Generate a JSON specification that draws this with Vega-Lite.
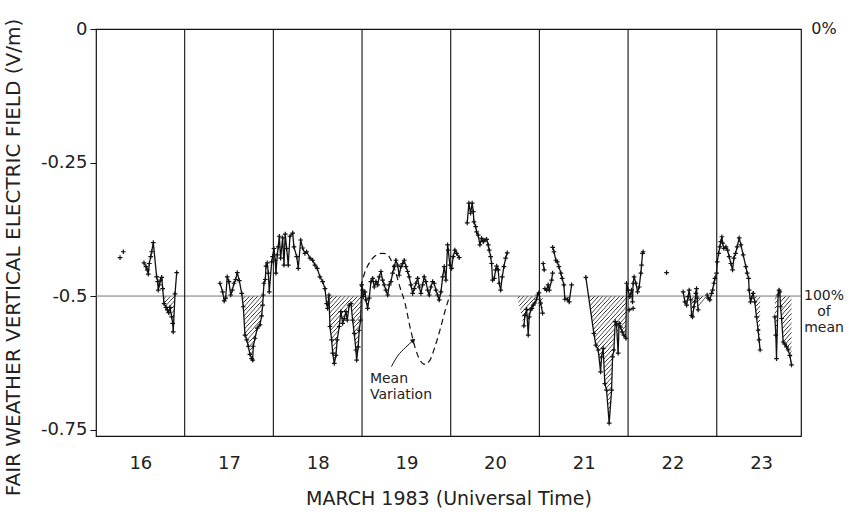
{
  "$schema": "https://vega.github.io/schema/vega-lite/v6.json",
  "width": 705,
  "height": 407,
  "autosize": {"type": "none"},
  "padding": {"left": 96, "top": 29, "right": 61, "bottom": 78},
  "background": "white",
  "config": {
    "font": "DejaVu Sans",
    "view": {"stroke": "#111", "strokeWidth": 1.2},
    "axis": {"grid": false, "domain": false, "labelColor": "#222", "titleColor": "#222", "titleFontWeight": "normal", "tickColor": "#111"}
  },
  "datasets": {
    "obs": [
      {"d": 15.771, "v": -0.428, "s": "p1"},
      {"d": 15.808, "v": -0.417, "s": "p2"},
      {"d": 16.041, "v": -0.438, "s": "a"}, {"d": 16.064, "v": -0.445, "s": "a"}, {"d": 16.078, "v": -0.451, "s": "a"}, {"d": 16.090, "v": -0.459, "s": "a"}, {"d": 16.101, "v": -0.439, "s": "a"}, {"d": 16.117, "v": -0.426, "s": "a"}, {"d": 16.128, "v": -0.417, "s": "a"}, {"d": 16.146, "v": -0.400, "s": "a"}, {"d": 16.184, "v": -0.464, "s": "a"}, {"d": 16.196, "v": -0.473, "s": "a"}, {"d": 16.202, "v": -0.489, "s": "a"}, {"d": 16.214, "v": -0.479, "s": "a"}, {"d": 16.229, "v": -0.470, "s": "a"}, {"d": 16.241, "v": -0.465, "s": "a"}, {"d": 16.252, "v": -0.486, "s": "a"}, {"d": 16.267, "v": -0.514, "s": "a"}, {"d": 16.289, "v": -0.521, "s": "a"}, {"d": 16.304, "v": -0.526, "s": "a"}, {"d": 16.320, "v": -0.531, "s": "a"}, {"d": 16.334, "v": -0.521, "s": "a"}, {"d": 16.353, "v": -0.539, "s": "a"}, {"d": 16.365, "v": -0.551, "s": "a"}, {"d": 16.371, "v": -0.567, "s": "a"}, {"d": 16.391, "v": -0.496, "s": "a"}, {"d": 16.410, "v": -0.456, "s": "a"},
      {"d": 16.898, "v": -0.476, "s": "b"}, {"d": 16.928, "v": -0.492, "s": "b"}, {"d": 16.946, "v": -0.509, "s": "b"}, {"d": 16.962, "v": -0.504, "s": "b"}, {"d": 16.980, "v": -0.464, "s": "b"}, {"d": 16.999, "v": -0.473, "s": "b"}, {"d": 17.019, "v": -0.498, "s": "b"}, {"d": 17.037, "v": -0.489, "s": "b"}, {"d": 17.056, "v": -0.476, "s": "b"}, {"d": 17.075, "v": -0.469, "s": "b"}, {"d": 17.093, "v": -0.456, "s": "b"}, {"d": 17.116, "v": -0.471, "s": "b"}, {"d": 17.143, "v": -0.495, "s": "b"}, {"d": 17.161, "v": -0.520, "s": "b"}, {"d": 17.180, "v": -0.573, "s": "b"}, {"d": 17.199, "v": -0.582, "s": "b"}, {"d": 17.217, "v": -0.594, "s": "b"}, {"d": 17.236, "v": -0.609, "s": "b"}, {"d": 17.255, "v": -0.617, "s": "b"}, {"d": 17.267, "v": -0.620, "s": "b"}, {"d": 17.273, "v": -0.594, "s": "b"}, {"d": 17.293, "v": -0.579, "s": "b"}, {"d": 17.319, "v": -0.560, "s": "b"}, {"d": 17.349, "v": -0.554, "s": "b"}, {"d": 17.368, "v": -0.537, "s": "b"}, {"d": 17.379, "v": -0.517, "s": "b"}, {"d": 17.386, "v": -0.498, "s": "b"}, {"d": 17.394, "v": -0.476, "s": "b"}, {"d": 17.409, "v": -0.469, "s": "b"}, {"d": 17.417, "v": -0.444, "s": "b"}, {"d": 17.431, "v": -0.438, "s": "b"}, {"d": 17.443, "v": -0.457, "s": "b"}, {"d": 17.454, "v": -0.492, "s": "b"}, {"d": 17.481, "v": -0.436, "s": "b"}, {"d": 17.492, "v": -0.426, "s": "b"}, {"d": 17.507, "v": -0.411, "s": "b"}, {"d": 17.521, "v": -0.433, "s": "b"}, {"d": 17.529, "v": -0.457, "s": "b"}, {"d": 17.544, "v": -0.423, "s": "b"}, {"d": 17.555, "v": -0.408, "s": "b"}, {"d": 17.567, "v": -0.388, "s": "b"}, {"d": 17.582, "v": -0.429, "s": "b"}, {"d": 17.605, "v": -0.391, "s": "b"}, {"d": 17.620, "v": -0.442, "s": "b"}, {"d": 17.634, "v": -0.384, "s": "b"}, {"d": 17.650, "v": -0.411, "s": "b"}, {"d": 17.668, "v": -0.442, "s": "b"}, {"d": 17.687, "v": -0.388, "s": "b"}, {"d": 17.718, "v": -0.382, "s": "b"}, {"d": 17.732, "v": -0.408, "s": "b"}, {"d": 17.763, "v": -0.426, "s": "b"}, {"d": 17.781, "v": -0.448, "s": "b"}, {"d": 17.808, "v": -0.395, "s": "b"}, {"d": 17.830, "v": -0.410, "s": "b"}, {"d": 17.856, "v": -0.420, "s": "b"}, {"d": 17.875, "v": -0.417, "s": "b"}, {"d": 17.913, "v": -0.429, "s": "b"}, {"d": 17.943, "v": -0.433, "s": "b"}, {"d": 17.969, "v": -0.442, "s": "b"}, {"d": 17.995, "v": -0.448, "s": "b"}, {"d": 18.025, "v": -0.464, "s": "b"}, {"d": 18.056, "v": -0.473, "s": "b"}, {"d": 18.082, "v": -0.486, "s": "b"}, {"d": 18.101, "v": -0.514, "s": "b"}, {"d": 18.112, "v": -0.523, "s": "b"}, {"d": 18.127, "v": -0.498, "s": "b"}, {"d": 18.138, "v": -0.557, "s": "b"}, {"d": 18.157, "v": -0.582, "s": "b"}, {"d": 18.169, "v": -0.607, "s": "b"}, {"d": 18.187, "v": -0.626, "s": "b"}, {"d": 18.206, "v": -0.611, "s": "b"}, {"d": 18.220, "v": -0.582, "s": "b"}, {"d": 18.243, "v": -0.557, "s": "b"}, {"d": 18.262, "v": -0.529, "s": "b"}, {"d": 18.281, "v": -0.551, "s": "b"}, {"d": 18.299, "v": -0.542, "s": "b"}, {"d": 18.319, "v": -0.529, "s": "b"}, {"d": 18.333, "v": -0.545, "s": "b"}, {"d": 18.356, "v": -0.517, "s": "b"}, {"d": 18.375, "v": -0.514, "s": "b"}, {"d": 18.394, "v": -0.545, "s": "b"}, {"d": 18.412, "v": -0.570, "s": "b"}, {"d": 18.431, "v": -0.601, "s": "b"}, {"d": 18.439, "v": -0.620, "s": "b"}, {"d": 18.457, "v": -0.595, "s": "b"}, {"d": 18.468, "v": -0.564, "s": "b"}, {"d": 18.484, "v": -0.545, "s": "b"}, {"d": 18.496, "v": -0.479, "s": "b"}, {"d": 18.507, "v": -0.489, "s": "b"}, {"d": 18.514, "v": -0.501, "s": "b"}, {"d": 18.533, "v": -0.492, "s": "b"}, {"d": 18.544, "v": -0.507, "s": "b"}, {"d": 18.563, "v": -0.523, "s": "b"}, {"d": 18.581, "v": -0.504, "s": "b"}, {"d": 18.600, "v": -0.473, "s": "b"}, {"d": 18.620, "v": -0.467, "s": "b"}, {"d": 18.638, "v": -0.483, "s": "b"}, {"d": 18.657, "v": -0.473, "s": "b"}, {"d": 18.676, "v": -0.479, "s": "b"}, {"d": 18.694, "v": -0.464, "s": "b"}, {"d": 18.713, "v": -0.454, "s": "b"}, {"d": 18.732, "v": -0.470, "s": "b"}, {"d": 18.750, "v": -0.479, "s": "b"}, {"d": 18.769, "v": -0.489, "s": "b"}, {"d": 18.789, "v": -0.498, "s": "b"}, {"d": 18.807, "v": -0.479, "s": "b"}, {"d": 18.826, "v": -0.473, "s": "b"}, {"d": 18.845, "v": -0.457, "s": "b"}, {"d": 18.863, "v": -0.445, "s": "b"}, {"d": 18.882, "v": -0.433, "s": "b"}, {"d": 18.901, "v": -0.442, "s": "b"}, {"d": 18.919, "v": -0.461, "s": "b"}, {"d": 18.939, "v": -0.445, "s": "b"}, {"d": 18.958, "v": -0.439, "s": "b"}, {"d": 18.976, "v": -0.433, "s": "b"}, {"d": 18.995, "v": -0.445, "s": "b"}, {"d": 19.014, "v": -0.454, "s": "b"}, {"d": 19.032, "v": -0.464, "s": "b"}, {"d": 19.051, "v": -0.479, "s": "b"}, {"d": 19.071, "v": -0.495, "s": "b"}, {"d": 19.089, "v": -0.486, "s": "b"}, {"d": 19.108, "v": -0.476, "s": "b"}, {"d": 19.127, "v": -0.467, "s": "b"}, {"d": 19.145, "v": -0.483, "s": "b"}, {"d": 19.164, "v": -0.495, "s": "b"}, {"d": 19.183, "v": -0.479, "s": "b"}, {"d": 19.201, "v": -0.464, "s": "b"}, {"d": 19.220, "v": -0.473, "s": "b"}, {"d": 19.240, "v": -0.489, "s": "b"}, {"d": 19.258, "v": -0.498, "s": "b"}, {"d": 19.277, "v": -0.483, "s": "b"}, {"d": 19.296, "v": -0.473, "s": "b"}, {"d": 19.314, "v": -0.476, "s": "b"}, {"d": 19.333, "v": -0.489, "s": "b"}, {"d": 19.352, "v": -0.498, "s": "b"}, {"d": 19.370, "v": -0.507, "s": "b"}, {"d": 19.390, "v": -0.492, "s": "b"}, {"d": 19.409, "v": -0.464, "s": "b"}, {"d": 19.427, "v": -0.445, "s": "b"}, {"d": 19.446, "v": -0.470, "s": "b"}, {"d": 19.465, "v": -0.404, "s": "b"}, {"d": 19.472, "v": -0.414, "s": "b"}, {"d": 19.491, "v": -0.442, "s": "b"}, {"d": 19.510, "v": -0.448, "s": "b"}, {"d": 19.528, "v": -0.426, "s": "b"}, {"d": 19.547, "v": -0.414, "s": "b"}, {"d": 19.567, "v": -0.420, "s": "b"}, {"d": 19.596, "v": -0.428, "s": "b"},
      {"d": 19.686, "v": -0.363, "s": "c"}, {"d": 19.705, "v": -0.326, "s": "c"}, {"d": 19.724, "v": -0.345, "s": "c"}, {"d": 19.742, "v": -0.326, "s": "c"}, {"d": 19.754, "v": -0.342, "s": "c"}, {"d": 19.762, "v": -0.361, "s": "c"}, {"d": 19.781, "v": -0.370, "s": "c"}, {"d": 19.792, "v": -0.380, "s": "c"}, {"d": 19.810, "v": -0.386, "s": "c"}, {"d": 19.829, "v": -0.404, "s": "c"}, {"d": 19.848, "v": -0.392, "s": "c"}, {"d": 19.867, "v": -0.398, "s": "c"}, {"d": 19.886, "v": -0.395, "s": "c"}, {"d": 19.905, "v": -0.394, "s": "c"}, {"d": 19.923, "v": -0.404, "s": "c"}, {"d": 19.934, "v": -0.414, "s": "c"}, {"d": 19.950, "v": -0.426, "s": "c"}, {"d": 19.961, "v": -0.439, "s": "c"}, {"d": 19.972, "v": -0.470, "s": "c"}, {"d": 19.991, "v": -0.467, "s": "c"}, {"d": 20.006, "v": -0.451, "s": "c"}, {"d": 20.018, "v": -0.444, "s": "c"}, {"d": 20.036, "v": -0.451, "s": "c"}, {"d": 20.047, "v": -0.476, "s": "c"}, {"d": 20.063, "v": -0.489, "s": "c"}, {"d": 20.081, "v": -0.464, "s": "c"}, {"d": 20.100, "v": -0.445, "s": "c"}, {"d": 20.119, "v": -0.429, "s": "c"}, {"d": 20.137, "v": -0.419, "s": "c"},
      {"d": 20.325, "v": -0.556, "s": "d"}, {"d": 20.337, "v": -0.536, "s": "d"}, {"d": 20.356, "v": -0.525, "s": "d"}, {"d": 20.374, "v": -0.573, "s": "d"}, {"d": 20.385, "v": -0.539, "s": "d"}, {"d": 20.401, "v": -0.526, "s": "d"}, {"d": 20.415, "v": -0.523, "s": "d"}, {"d": 20.430, "v": -0.517, "s": "d"}, {"d": 20.449, "v": -0.513, "s": "d"}, {"d": 20.469, "v": -0.506, "s": "d"}, {"d": 20.480, "v": -0.498, "s": "d"}, {"d": 20.494, "v": -0.494, "s": "d"}, {"d": 20.514, "v": -0.513, "s": "d"}, {"d": 20.536, "v": -0.532, "s": "d"},
      {"d": 20.543, "v": -0.439, "s": "e1"}, {"d": 20.554, "v": -0.451, "s": "e1"},
      {"d": 20.562, "v": -0.486, "s": "e2"}, {"d": 20.581, "v": -0.489, "s": "e2"}, {"d": 20.599, "v": -0.479, "s": "e2"}, {"d": 20.611, "v": -0.489, "s": "e2"}, {"d": 20.638, "v": -0.470, "s": "e2"}, {"d": 20.649, "v": -0.457, "s": "e2"},
      {"d": 20.650, "v": -0.409, "s": "f"}, {"d": 20.664, "v": -0.417, "s": "f"}, {"d": 20.686, "v": -0.433, "s": "f"}, {"d": 20.701, "v": -0.436, "s": "f"}, {"d": 20.720, "v": -0.445, "s": "f"}, {"d": 20.742, "v": -0.457, "s": "f"}, {"d": 20.757, "v": -0.467, "s": "f"}, {"d": 20.776, "v": -0.479, "s": "f"}, {"d": 20.787, "v": -0.506, "s": "f"}, {"d": 20.813, "v": -0.506, "s": "f"}, {"d": 20.836, "v": -0.511, "s": "f"}, {"d": 20.863, "v": -0.479, "s": "f"},
      {"d": 21.024, "v": -0.465, "s": "g"}, {"d": 21.114, "v": -0.570, "s": "g"}, {"d": 21.137, "v": -0.592, "s": "g"}, {"d": 21.163, "v": -0.601, "s": "g"}, {"d": 21.190, "v": -0.642, "s": "g"}, {"d": 21.201, "v": -0.614, "s": "g"}, {"d": 21.219, "v": -0.598, "s": "g"}, {"d": 21.238, "v": -0.664, "s": "g"}, {"d": 21.257, "v": -0.676, "s": "g"}, {"d": 21.287, "v": -0.738, "s": "g"}, {"d": 21.314, "v": -0.676, "s": "g"}, {"d": 21.325, "v": -0.614, "s": "g"}, {"d": 21.340, "v": -0.601, "s": "g"}, {"d": 21.355, "v": -0.548, "s": "g"}, {"d": 21.370, "v": -0.554, "s": "g"}, {"d": 21.388, "v": -0.607, "s": "g"}, {"d": 21.399, "v": -0.551, "s": "g"}, {"d": 21.415, "v": -0.558, "s": "g"}, {"d": 21.433, "v": -0.567, "s": "g"}, {"d": 21.452, "v": -0.573, "s": "g"}, {"d": 21.475, "v": -0.579, "s": "g"}, {"d": 21.483, "v": -0.476, "s": "g"}, {"d": 21.501, "v": -0.489, "s": "g"}, {"d": 21.520, "v": -0.501, "s": "g"}, {"d": 21.539, "v": -0.489, "s": "g"}, {"d": 21.550, "v": -0.511, "s": "g"}, {"d": 21.557, "v": -0.476, "s": "g"}, {"d": 21.568, "v": -0.464, "s": "g"}, {"d": 21.588, "v": -0.476, "s": "g"}, {"d": 21.607, "v": -0.492, "s": "g"}, {"d": 21.625, "v": -0.483, "s": "g"}, {"d": 21.644, "v": -0.457, "s": "g"}, {"d": 21.652, "v": -0.442, "s": "g"}, {"d": 21.663, "v": -0.420, "s": "g"}, {"d": 21.670, "v": -0.417, "s": "g"},
      {"d": 21.512, "v": -0.526, "s": "h"}, {"d": 21.557, "v": -0.523, "s": "h"},
      {"d": 21.934, "v": -0.456, "s": "p3"},
      {"d": 22.121, "v": -0.492, "s": "i"}, {"d": 22.141, "v": -0.511, "s": "i"}, {"d": 22.160, "v": -0.517, "s": "i"}, {"d": 22.178, "v": -0.501, "s": "i"}, {"d": 22.189, "v": -0.489, "s": "i"}, {"d": 22.205, "v": -0.507, "s": "i"}, {"d": 22.216, "v": -0.536, "s": "i"}, {"d": 22.227, "v": -0.539, "s": "i"}, {"d": 22.242, "v": -0.520, "s": "i"}, {"d": 22.253, "v": -0.511, "s": "i"}, {"d": 22.264, "v": -0.495, "s": "i"}, {"d": 22.272, "v": -0.486, "s": "i"}, {"d": 22.279, "v": -0.504, "s": "i"}, {"d": 22.290, "v": -0.526, "s": "i"},
      {"d": 22.392, "v": -0.498, "s": "j"}, {"d": 22.403, "v": -0.504, "s": "j"}, {"d": 22.422, "v": -0.507, "s": "j"}, {"d": 22.442, "v": -0.495, "s": "j"}, {"d": 22.453, "v": -0.489, "s": "j"}, {"d": 22.468, "v": -0.476, "s": "j"}, {"d": 22.479, "v": -0.467, "s": "j"}, {"d": 22.498, "v": -0.457, "s": "j"}, {"d": 22.505, "v": -0.436, "s": "j"}, {"d": 22.521, "v": -0.420, "s": "j"}, {"d": 22.535, "v": -0.408, "s": "j"}, {"d": 22.546, "v": -0.398, "s": "j"}, {"d": 22.558, "v": -0.389, "s": "j"}, {"d": 22.566, "v": -0.401, "s": "j"}, {"d": 22.580, "v": -0.411, "s": "j"}, {"d": 22.603, "v": -0.408, "s": "j"}, {"d": 22.622, "v": -0.414, "s": "j"}, {"d": 22.640, "v": -0.426, "s": "j"}, {"d": 22.659, "v": -0.439, "s": "j"}, {"d": 22.678, "v": -0.451, "s": "j"}, {"d": 22.693, "v": -0.429, "s": "j"}, {"d": 22.712, "v": -0.420, "s": "j"}, {"d": 22.730, "v": -0.408, "s": "j"}, {"d": 22.753, "v": -0.391, "s": "j"}, {"d": 22.772, "v": -0.404, "s": "j"}, {"d": 22.798, "v": -0.423, "s": "j"}, {"d": 22.828, "v": -0.445, "s": "j"}, {"d": 22.843, "v": -0.457, "s": "j"}, {"d": 22.859, "v": -0.467, "s": "j"}, {"d": 22.865, "v": -0.489, "s": "j"}, {"d": 22.881, "v": -0.511, "s": "j"}, {"d": 22.892, "v": -0.504, "s": "j"}, {"d": 22.910, "v": -0.495, "s": "j"}, {"d": 22.929, "v": -0.511, "s": "j"}, {"d": 22.948, "v": -0.539, "s": "j"}, {"d": 22.966, "v": -0.564, "s": "j"}, {"d": 22.977, "v": -0.582, "s": "j"}, {"d": 22.989, "v": -0.601, "s": "j"},
      {"d": 23.155, "v": -0.539, "s": "k"}, {"d": 23.166, "v": -0.573, "s": "k"}, {"d": 23.174, "v": -0.617, "s": "k"}, {"d": 23.192, "v": -0.498, "s": "k"}, {"d": 23.203, "v": -0.489, "s": "k"}, {"d": 23.211, "v": -0.492, "s": "k"}, {"d": 23.219, "v": -0.520, "s": "k"}, {"d": 23.231, "v": -0.542, "s": "k"}, {"d": 23.249, "v": -0.586, "s": "k"}, {"d": 23.268, "v": -0.590, "s": "k"}, {"d": 23.287, "v": -0.595, "s": "k"}, {"d": 23.305, "v": -0.601, "s": "k"}, {"d": 23.324, "v": -0.611, "s": "k"}, {"d": 23.343, "v": -0.629, "s": "k"}
    ],
    "mean": [
      {"d": 18.484, "v": -0.483}, {"d": 18.533, "v": -0.455}, {"d": 18.589, "v": -0.436}, {"d": 18.646, "v": -0.425}, {"d": 18.721, "v": -0.420}, {"d": 18.781, "v": -0.421}, {"d": 18.815, "v": -0.429}, {"d": 18.871, "v": -0.451}, {"d": 18.927, "v": -0.483}, {"d": 18.984, "v": -0.513}, {"d": 19.040, "v": -0.557}, {"d": 19.096, "v": -0.595}, {"d": 19.153, "v": -0.620}, {"d": 19.209, "v": -0.628}, {"d": 19.266, "v": -0.620}, {"d": 19.322, "v": -0.595}, {"d": 19.378, "v": -0.564}, {"d": 19.434, "v": -0.529}, {"d": 19.491, "v": -0.498}
    ],
    "arrow": [
      {"d": 18.831, "v": -0.632}, {"d": 18.902, "v": -0.612}, {"d": 18.992, "v": -0.596}, {"d": 19.071, "v": -0.584}
    ],
    "days": [
      {"d": 16.5}, {"d": 17.5}, {"d": 18.5}, {"d": 19.5}, {"d": 20.5}, {"d": 21.5}, {"d": 22.5}
    ]
  },
  "layer": [
    {
      "data": {"name": "obs"},
      "encoding": {
        "x": {
          "field": "d", "type": "quantitative",
          "scale": {"domain": [15.5, 23.45], "nice": false, "zero": false},
          "axis": {
            "values": [16, 17, 18, 19, 20, 21, 22, 23], "format": "d", "ticks": false,
            "labelFontSize": 18, "labelPadding": 18,
            "title": "MARCH 1983  (Universal Time)", "titleFontSize": 19, "titlePadding": 17
          }
        },
        "y": {
          "field": "v", "type": "quantitative",
          "scale": {"domain": [-0.762, 0], "nice": false, "zero": false},
          "axis": {
            "values": [0, -0.25, -0.5, -0.75],
            "labelExpr": "datum.value == 0 ? '0' : datum.value == -0.25 ? '-0.25' : datum.value == -0.5 ? '-0.5' : '-0.75'",
            "tickSize": 6, "labelFontSize": 18, "labelPadding": 3,
            "title": "FAIR WEATHER VERTICAL ELECTRIC FIELD (V/m)", "titleFontSize": 20,
            "titleX": -83, "titleY": 228, "titleAngle": -90, "titleAlign": "center", "titleBaseline": "middle"
          }
        }
      },
      "layer": [
        {
          "transform": [{"filter": {"field": "s", "oneOf": ["a", "b", "c", "d", "e1", "e2", "f", "g", "i", "j"]}}],
          "mark": {"type": "area", "interpolate": "linear", "fill": {"gradient": "linear", "x1": 0, "y1": 0, "x2": 1.22, "y2": 0.398, "stops": [
            {"offset": 0.110, "color": "#fff"}, {"offset": 0.113, "color": "#fff"}, {"offset": 0.114, "color": "#222"},
            {"offset": 0.115, "color": "#fff"}, {"offset": 0.118, "color": "#fff"}, {"offset": 0.119, "color": "#222"},
            {"offset": 0.120, "color": "#fff"}, {"offset": 0.123, "color": "#fff"}, {"offset": 0.124, "color": "#222"},
            {"offset": 0.125, "color": "#fff"}, {"offset": 0.128, "color": "#fff"}, {"offset": 0.129, "color": "#222"},
            {"offset": 0.130, "color": "#fff"}, {"offset": 0.133, "color": "#fff"}, {"offset": 0.134, "color": "#222"},
            {"offset": 0.135, "color": "#fff"}, {"offset": 0.138, "color": "#fff"}, {"offset": 0.139, "color": "#222"},
            {"offset": 0.140, "color": "#fff"}, {"offset": 0.143, "color": "#fff"}, {"offset": 0.144, "color": "#222"},
            {"offset": 0.145, "color": "#fff"}, {"offset": 0.148, "color": "#fff"}, {"offset": 0.149, "color": "#222"},
            {"offset": 0.150, "color": "#fff"}, {"offset": 0.153, "color": "#fff"}, {"offset": 0.154, "color": "#222"},
            {"offset": 0.155, "color": "#fff"}, {"offset": 0.158, "color": "#fff"}, {"offset": 0.159, "color": "#222"},
            {"offset": 0.160, "color": "#fff"}, {"offset": 0.163, "color": "#fff"}, {"offset": 0.164, "color": "#222"},
            {"offset": 0.165, "color": "#fff"}, {"offset": 0.168, "color": "#fff"}, {"offset": 0.169, "color": "#222"},
            {"offset": 0.170, "color": "#fff"}, {"offset": 0.173, "color": "#fff"}, {"offset": 0.174, "color": "#222"},
            {"offset": 0.175, "color": "#fff"}, {"offset": 0.178, "color": "#fff"}, {"offset": 0.179, "color": "#222"},
            {"offset": 0.180, "color": "#fff"}, {"offset": 0.183, "color": "#fff"}, {"offset": 0.184, "color": "#222"},
            {"offset": 0.185, "color": "#fff"}, {"offset": 0.188, "color": "#fff"}, {"offset": 0.189, "color": "#222"},
            {"offset": 0.190, "color": "#fff"}, {"offset": 0.193, "color": "#fff"}, {"offset": 0.194, "color": "#222"},
            {"offset": 0.195, "color": "#fff"}, {"offset": 0.198, "color": "#fff"}, {"offset": 0.199, "color": "#222"},
            {"offset": 0.200, "color": "#fff"}, {"offset": 0.203, "color": "#fff"}, {"offset": 0.204, "color": "#222"},
            {"offset": 0.205, "color": "#fff"}, {"offset": 0.208, "color": "#fff"}, {"offset": 0.209, "color": "#222"},
            {"offset": 0.210, "color": "#fff"}, {"offset": 0.213, "color": "#fff"}, {"offset": 0.214, "color": "#222"},
            {"offset": 0.215, "color": "#fff"}, {"offset": 0.218, "color": "#fff"}, {"offset": 0.219, "color": "#222"},
            {"offset": 0.220, "color": "#fff"}, {"offset": 0.223, "color": "#fff"}, {"offset": 0.224, "color": "#222"},
            {"offset": 0.225, "color": "#fff"}, {"offset": 0.228, "color": "#fff"}, {"offset": 0.229, "color": "#222"},
            {"offset": 0.230, "color": "#fff"}, {"offset": 0.233, "color": "#fff"}, {"offset": 0.234, "color": "#222"},
            {"offset": 0.235, "color": "#fff"}, {"offset": 0.238, "color": "#fff"}, {"offset": 0.239, "color": "#222"},
            {"offset": 0.240, "color": "#fff"}, {"offset": 0.243, "color": "#fff"}, {"offset": 0.244, "color": "#222"},
            {"offset": 0.245, "color": "#fff"}, {"offset": 0.248, "color": "#fff"}, {"offset": 0.249, "color": "#222"},
            {"offset": 0.250, "color": "#fff"}, {"offset": 0.253, "color": "#fff"}, {"offset": 0.254, "color": "#222"},
            {"offset": 0.255, "color": "#fff"}, {"offset": 0.258, "color": "#fff"}, {"offset": 0.259, "color": "#222"},
            {"offset": 0.260, "color": "#fff"}, {"offset": 0.263, "color": "#fff"}, {"offset": 0.264, "color": "#222"},
            {"offset": 0.265, "color": "#fff"}, {"offset": 0.268, "color": "#fff"}, {"offset": 0.269, "color": "#222"},
            {"offset": 0.270, "color": "#fff"}, {"offset": 0.273, "color": "#fff"}, {"offset": 0.274, "color": "#222"},
            {"offset": 0.275, "color": "#fff"}, {"offset": 0.278, "color": "#fff"}, {"offset": 0.279, "color": "#222"},
            {"offset": 0.280, "color": "#fff"}, {"offset": 0.283, "color": "#fff"}, {"offset": 0.284, "color": "#222"},
            {"offset": 0.285, "color": "#fff"}, {"offset": 0.288, "color": "#fff"}, {"offset": 0.289, "color": "#222"},
            {"offset": 0.290, "color": "#fff"}, {"offset": 0.293, "color": "#fff"}, {"offset": 0.294, "color": "#222"},
            {"offset": 0.295, "color": "#fff"}, {"offset": 0.298, "color": "#fff"}, {"offset": 0.299, "color": "#222"},
            {"offset": 0.300, "color": "#fff"}, {"offset": 0.303, "color": "#fff"}, {"offset": 0.304, "color": "#222"},
            {"offset": 0.305, "color": "#fff"}, {"offset": 0.308, "color": "#fff"}, {"offset": 0.309, "color": "#222"},
            {"offset": 0.310, "color": "#fff"}, {"offset": 0.313, "color": "#fff"}, {"offset": 0.314, "color": "#222"},
            {"offset": 0.315, "color": "#fff"}, {"offset": 0.318, "color": "#fff"}, {"offset": 0.319, "color": "#222"},
            {"offset": 0.320, "color": "#fff"}, {"offset": 0.323, "color": "#fff"}, {"offset": 0.324, "color": "#222"},
            {"offset": 0.325, "color": "#fff"}, {"offset": 0.328, "color": "#fff"}, {"offset": 0.329, "color": "#222"},
            {"offset": 0.330, "color": "#fff"}, {"offset": 0.333, "color": "#fff"}, {"offset": 0.334, "color": "#222"},
            {"offset": 0.335, "color": "#fff"}, {"offset": 0.338, "color": "#fff"}, {"offset": 0.339, "color": "#222"},
            {"offset": 0.340, "color": "#fff"}, {"offset": 0.343, "color": "#fff"}, {"offset": 0.344, "color": "#222"},
            {"offset": 0.345, "color": "#fff"}, {"offset": 0.348, "color": "#fff"}, {"offset": 0.349, "color": "#222"},
            {"offset": 0.350, "color": "#fff"}, {"offset": 0.353, "color": "#fff"}, {"offset": 0.354, "color": "#222"},
            {"offset": 0.355, "color": "#fff"}, {"offset": 0.358, "color": "#fff"}, {"offset": 0.359, "color": "#222"},
            {"offset": 0.360, "color": "#fff"}, {"offset": 0.363, "color": "#fff"}, {"offset": 0.364, "color": "#222"},
            {"offset": 0.365, "color": "#fff"}, {"offset": 0.368, "color": "#fff"}, {"offset": 0.369, "color": "#222"},
            {"offset": 0.370, "color": "#fff"}, {"offset": 0.373, "color": "#fff"}, {"offset": 0.374, "color": "#222"},
            {"offset": 0.375, "color": "#fff"}, {"offset": 0.378, "color": "#fff"}, {"offset": 0.379, "color": "#222"},
            {"offset": 0.380, "color": "#fff"}, {"offset": 0.383, "color": "#fff"}, {"offset": 0.384, "color": "#222"},
            {"offset": 0.385, "color": "#fff"}, {"offset": 0.388, "color": "#fff"}, {"offset": 0.389, "color": "#222"},
            {"offset": 0.390, "color": "#fff"}, {"offset": 0.393, "color": "#fff"}, {"offset": 0.394, "color": "#222"},
            {"offset": 0.395, "color": "#fff"}, {"offset": 0.398, "color": "#fff"}, {"offset": 0.399, "color": "#222"},
            {"offset": 0.400, "color": "#fff"}, {"offset": 0.403, "color": "#fff"}, {"offset": 0.404, "color": "#222"},
            {"offset": 0.405, "color": "#fff"}, {"offset": 0.408, "color": "#fff"}, {"offset": 0.409, "color": "#222"},
            {"offset": 0.410, "color": "#fff"}, {"offset": 0.413, "color": "#fff"}, {"offset": 0.414, "color": "#222"},
            {"offset": 0.415, "color": "#fff"}, {"offset": 0.418, "color": "#fff"}, {"offset": 0.419, "color": "#222"},
            {"offset": 0.420, "color": "#fff"}, {"offset": 0.423, "color": "#fff"}, {"offset": 0.424, "color": "#222"},
            {"offset": 0.425, "color": "#fff"}, {"offset": 0.428, "color": "#fff"}, {"offset": 0.429, "color": "#222"},
            {"offset": 0.430, "color": "#fff"}, {"offset": 0.433, "color": "#fff"}, {"offset": 0.434, "color": "#222"},
            {"offset": 0.435, "color": "#fff"}, {"offset": 0.438, "color": "#fff"}, {"offset": 0.439, "color": "#222"},
            {"offset": 0.440, "color": "#fff"}, {"offset": 0.443, "color": "#fff"}, {"offset": 0.444, "color": "#222"},
            {"offset": 0.445, "color": "#fff"}, {"offset": 0.448, "color": "#fff"}, {"offset": 0.449, "color": "#222"},
            {"offset": 0.450, "color": "#fff"}, {"offset": 0.453, "color": "#fff"}, {"offset": 0.454, "color": "#222"},
            {"offset": 0.455, "color": "#fff"}, {"offset": 0.458, "color": "#fff"}, {"offset": 0.459, "color": "#222"},
            {"offset": 0.460, "color": "#fff"}, {"offset": 0.463, "color": "#fff"}, {"offset": 0.464, "color": "#222"},
            {"offset": 0.465, "color": "#fff"}, {"offset": 0.468, "color": "#fff"}, {"offset": 0.469, "color": "#222"},
            {"offset": 0.470, "color": "#fff"}, {"offset": 0.473, "color": "#fff"}, {"offset": 0.474, "color": "#222"},
            {"offset": 0.475, "color": "#fff"}, {"offset": 0.478, "color": "#fff"}, {"offset": 0.479, "color": "#222"},
            {"offset": 0.480, "color": "#fff"}, {"offset": 0.483, "color": "#fff"}, {"offset": 0.484, "color": "#222"},
            {"offset": 0.485, "color": "#fff"}, {"offset": 0.488, "color": "#fff"}, {"offset": 0.489, "color": "#222"},
            {"offset": 0.490, "color": "#fff"}, {"offset": 0.493, "color": "#fff"}, {"offset": 0.494, "color": "#222"},
            {"offset": 0.495, "color": "#fff"}, {"offset": 0.498, "color": "#fff"}, {"offset": 0.499, "color": "#222"},
            {"offset": 0.500, "color": "#fff"}, {"offset": 0.503, "color": "#fff"}, {"offset": 0.504, "color": "#222"},
            {"offset": 0.505, "color": "#fff"}, {"offset": 0.508, "color": "#fff"}, {"offset": 0.509, "color": "#222"},
            {"offset": 0.510, "color": "#fff"}, {"offset": 0.513, "color": "#fff"}, {"offset": 0.514, "color": "#222"},
            {"offset": 0.515, "color": "#fff"}, {"offset": 0.518, "color": "#fff"}, {"offset": 0.519, "color": "#222"},
            {"offset": 0.520, "color": "#fff"}, {"offset": 0.523, "color": "#fff"}, {"offset": 0.524, "color": "#222"},
            {"offset": 0.525, "color": "#fff"}, {"offset": 0.528, "color": "#fff"}, {"offset": 0.529, "color": "#222"},
            {"offset": 0.530, "color": "#fff"}, {"offset": 0.533, "color": "#fff"}, {"offset": 0.534, "color": "#222"},
            {"offset": 0.535, "color": "#fff"}, {"offset": 0.538, "color": "#fff"}, {"offset": 0.539, "color": "#222"},
            {"offset": 0.540, "color": "#fff"}, {"offset": 0.543, "color": "#fff"}, {"offset": 0.544, "color": "#222"},
            {"offset": 0.545, "color": "#fff"}, {"offset": 0.548, "color": "#fff"}, {"offset": 0.549, "color": "#222"},
            {"offset": 0.550, "color": "#fff"}, {"offset": 0.553, "color": "#fff"}, {"offset": 0.554, "color": "#222"},
            {"offset": 0.555, "color": "#fff"}, {"offset": 0.558, "color": "#fff"}, {"offset": 0.559, "color": "#222"},
            {"offset": 0.560, "color": "#fff"}, {"offset": 0.563, "color": "#fff"}, {"offset": 0.564, "color": "#222"},
            {"offset": 0.565, "color": "#fff"}, {"offset": 0.568, "color": "#fff"}, {"offset": 0.569, "color": "#222"},
            {"offset": 0.570, "color": "#fff"}, {"offset": 0.573, "color": "#fff"}, {"offset": 0.574, "color": "#222"},
            {"offset": 0.575, "color": "#fff"}, {"offset": 0.578, "color": "#fff"}, {"offset": 0.579, "color": "#222"},
            {"offset": 0.580, "color": "#fff"}, {"offset": 0.583, "color": "#fff"}, {"offset": 0.584, "color": "#222"},
            {"offset": 0.585, "color": "#fff"}, {"offset": 0.588, "color": "#fff"}, {"offset": 0.589, "color": "#222"},
            {"offset": 0.590, "color": "#fff"}, {"offset": 0.593, "color": "#fff"}, {"offset": 0.594, "color": "#222"},
            {"offset": 0.595, "color": "#fff"}, {"offset": 0.598, "color": "#fff"}, {"offset": 0.599, "color": "#222"},
            {"offset": 0.600, "color": "#fff"}, {"offset": 0.603, "color": "#fff"}, {"offset": 0.604, "color": "#222"},
            {"offset": 0.605, "color": "#fff"}, {"offset": 0.608, "color": "#fff"}, {"offset": 0.609, "color": "#222"},
            {"offset": 0.610, "color": "#fff"}, {"offset": 0.613, "color": "#fff"}, {"offset": 0.614, "color": "#222"},
            {"offset": 0.615, "color": "#fff"}, {"offset": 0.618, "color": "#fff"}, {"offset": 0.619, "color": "#222"},
            {"offset": 0.620, "color": "#fff"}, {"offset": 0.623, "color": "#fff"}, {"offset": 0.624, "color": "#222"},
            {"offset": 0.625, "color": "#fff"}, {"offset": 0.628, "color": "#fff"}, {"offset": 0.629, "color": "#222"},
            {"offset": 0.630, "color": "#fff"}, {"offset": 0.633, "color": "#fff"}, {"offset": 0.634, "color": "#222"},
            {"offset": 0.635, "color": "#fff"}, {"offset": 0.638, "color": "#fff"}, {"offset": 0.639, "color": "#222"},
            {"offset": 0.640, "color": "#fff"}, {"offset": 0.643, "color": "#fff"}, {"offset": 0.644, "color": "#222"},
            {"offset": 0.645, "color": "#fff"}, {"offset": 0.648, "color": "#fff"}, {"offset": 0.649, "color": "#222"},
            {"offset": 0.650, "color": "#fff"}, {"offset": 0.653, "color": "#fff"}, {"offset": 0.654, "color": "#222"},
            {"offset": 0.655, "color": "#fff"}, {"offset": 0.658, "color": "#fff"}, {"offset": 0.659, "color": "#222"},
            {"offset": 0.660, "color": "#fff"}, {"offset": 0.663, "color": "#fff"}, {"offset": 0.664, "color": "#222"},
            {"offset": 0.665, "color": "#fff"}, {"offset": 0.668, "color": "#fff"}, {"offset": 0.669, "color": "#222"},
            {"offset": 0.670, "color": "#fff"}, {"offset": 0.673, "color": "#fff"}, {"offset": 0.674, "color": "#222"},
            {"offset": 0.675, "color": "#fff"}, {"offset": 0.678, "color": "#fff"}, {"offset": 0.679, "color": "#222"},
            {"offset": 0.680, "color": "#fff"}, {"offset": 0.683, "color": "#fff"}, {"offset": 0.684, "color": "#222"},
            {"offset": 0.685, "color": "#fff"}, {"offset": 0.688, "color": "#fff"}, {"offset": 0.689, "color": "#222"},
            {"offset": 0.690, "color": "#fff"}, {"offset": 0.693, "color": "#fff"}, {"offset": 0.694, "color": "#222"},
            {"offset": 0.695, "color": "#fff"}, {"offset": 0.698, "color": "#fff"}, {"offset": 0.699, "color": "#222"},
            {"offset": 0.700, "color": "#fff"}, {"offset": 0.703, "color": "#fff"}, {"offset": 0.704, "color": "#222"},
            {"offset": 0.705, "color": "#fff"}, {"offset": 0.708, "color": "#fff"}, {"offset": 0.709, "color": "#222"},
            {"offset": 0.710, "color": "#fff"}, {"offset": 0.713, "color": "#fff"}, {"offset": 0.714, "color": "#222"},
            {"offset": 0.715, "color": "#fff"}, {"offset": 0.718, "color": "#fff"}, {"offset": 0.719, "color": "#222"},
            {"offset": 0.720, "color": "#fff"}, {"offset": 0.723, "color": "#fff"}, {"offset": 0.724, "color": "#222"},
            {"offset": 0.725, "color": "#fff"}, {"offset": 0.728, "color": "#fff"}, {"offset": 0.729, "color": "#222"},
            {"offset": 0.730, "color": "#fff"}, {"offset": 0.733, "color": "#fff"}, {"offset": 0.734, "color": "#222"},
            {"offset": 0.735, "color": "#fff"}, {"offset": 0.738, "color": "#fff"}, {"offset": 0.739, "color": "#222"},
            {"offset": 0.740, "color": "#fff"}, {"offset": 0.743, "color": "#fff"}, {"offset": 0.744, "color": "#222"},
            {"offset": 0.745, "color": "#fff"}, {"offset": 0.748, "color": "#fff"}, {"offset": 0.749, "color": "#222"},
            {"offset": 0.750, "color": "#fff"}, {"offset": 0.753, "color": "#fff"}, {"offset": 0.754, "color": "#222"},
            {"offset": 0.755, "color": "#fff"}, {"offset": 0.758, "color": "#fff"}, {"offset": 0.759, "color": "#222"},
            {"offset": 0.760, "color": "#fff"}, {"offset": 0.763, "color": "#fff"}, {"offset": 0.764, "color": "#222"},
            {"offset": 0.765, "color": "#fff"}, {"offset": 0.768, "color": "#fff"}, {"offset": 0.769, "color": "#222"},
            {"offset": 0.770, "color": "#fff"}, {"offset": 0.773, "color": "#fff"}, {"offset": 0.774, "color": "#222"},
            {"offset": 0.775, "color": "#fff"}, {"offset": 0.778, "color": "#fff"}, {"offset": 0.779, "color": "#222"},
            {"offset": 0.780, "color": "#fff"}, {"offset": 0.783, "color": "#fff"}, {"offset": 0.784, "color": "#222"},
            {"offset": 0.785, "color": "#fff"}, {"offset": 0.788, "color": "#fff"}, {"offset": 0.789, "color": "#222"},
            {"offset": 0.790, "color": "#fff"}, {"offset": 0.793, "color": "#fff"}, {"offset": 0.794, "color": "#222"},
            {"offset": 0.795, "color": "#fff"}, {"offset": 0.798, "color": "#fff"}, {"offset": 0.799, "color": "#222"},
            {"offset": 0.800, "color": "#fff"}, {"offset": 0.803, "color": "#fff"}, {"offset": 0.804, "color": "#222"},
            {"offset": 0.805, "color": "#fff"}, {"offset": 0.808, "color": "#fff"}, {"offset": 0.809, "color": "#222"},
            {"offset": 0.810, "color": "#fff"}, {"offset": 0.813, "color": "#fff"}, {"offset": 0.814, "color": "#222"},
            {"offset": 0.815, "color": "#fff"}, {"offset": 0.818, "color": "#fff"}, {"offset": 0.819, "color": "#222"},
            {"offset": 0.820, "color": "#fff"}, {"offset": 0.823, "color": "#fff"}, {"offset": 0.824, "color": "#222"},
            {"offset": 0.825, "color": "#fff"}, {"offset": 0.828, "color": "#fff"}, {"offset": 0.829, "color": "#222"},
            {"offset": 0.830, "color": "#fff"}, {"offset": 0.833, "color": "#fff"}, {"offset": 0.834, "color": "#222"},
            {"offset": 0.835, "color": "#fff"}, {"offset": 0.838, "color": "#fff"}, {"offset": 0.839, "color": "#222"},
            {"offset": 0.840, "color": "#fff"}, {"offset": 0.843, "color": "#fff"}, {"offset": 0.844, "color": "#222"},
            {"offset": 0.845, "color": "#fff"}, {"offset": 0.848, "color": "#fff"}, {"offset": 0.849, "color": "#222"},
            {"offset": 0.850, "color": "#fff"}, {"offset": 0.853, "color": "#fff"}, {"offset": 0.854, "color": "#222"},
            {"offset": 0.855, "color": "#fff"}, {"offset": 0.858, "color": "#fff"}, {"offset": 0.859, "color": "#222"},
            {"offset": 0.860, "color": "#fff"}, {"offset": 0.863, "color": "#fff"}, {"offset": 0.864, "color": "#222"},
            {"offset": 0.865, "color": "#fff"}, {"offset": 0.868, "color": "#fff"}, {"offset": 0.869, "color": "#222"},
            {"offset": 0.870, "color": "#fff"}, {"offset": 0.873, "color": "#fff"}, {"offset": 0.874, "color": "#222"},
            {"offset": 0.875, "color": "#fff"}, {"offset": 0.878, "color": "#fff"}, {"offset": 0.879, "color": "#222"},
            {"offset": 0.880, "color": "#fff"}, {"offset": 0.883, "color": "#fff"}, {"offset": 0.884, "color": "#222"},
            {"offset": 0.885, "color": "#fff"}, {"offset": 0.888, "color": "#fff"}, {"offset": 0.889, "color": "#222"},
            {"offset": 0.890, "color": "#fff"}, {"offset": 0.893, "color": "#fff"}, {"offset": 0.894, "color": "#222"},
            {"offset": 0.895, "color": "#fff"}, {"offset": 0.898, "color": "#fff"}, {"offset": 0.899, "color": "#222"},
            {"offset": 0.900, "color": "#fff"}, {"offset": 0.903, "color": "#fff"}, {"offset": 0.904, "color": "#222"},
            {"offset": 0.905, "color": "#fff"}, {"offset": 0.908, "color": "#fff"}, {"offset": 0.909, "color": "#222"},
            {"offset": 0.910, "color": "#fff"}
          ]}},
          "encoding": {"y2": {"datum": -0.5}}
        },
        {
          "transform": [{"filter": {"field": "s", "equal": "k"}}],
          "mark": {"type": "area", "interpolate": "linear", "fill": {"gradient": "linear", "x1": 0, "y1": 0, "x2": 0.3, "y2": 1.2, "stops": [
            {"offset": 0.00, "color": "#fff"}, {"offset": 0.03, "color": "#fff"}, {"offset": 0.04, "color": "#222"},
            {"offset": 0.05, "color": "#fff"}, {"offset": 0.08, "color": "#fff"}, {"offset": 0.09, "color": "#222"},
            {"offset": 0.10, "color": "#fff"}, {"offset": 0.13, "color": "#fff"}, {"offset": 0.14, "color": "#222"},
            {"offset": 0.15, "color": "#fff"}, {"offset": 0.18, "color": "#fff"}, {"offset": 0.19, "color": "#222"},
            {"offset": 0.20, "color": "#fff"}, {"offset": 0.23, "color": "#fff"}, {"offset": 0.24, "color": "#222"},
            {"offset": 0.25, "color": "#fff"}, {"offset": 0.28, "color": "#fff"}, {"offset": 0.29, "color": "#222"},
            {"offset": 0.30, "color": "#fff"}, {"offset": 0.33, "color": "#fff"}, {"offset": 0.34, "color": "#222"},
            {"offset": 0.35, "color": "#fff"}, {"offset": 0.38, "color": "#fff"}, {"offset": 0.39, "color": "#222"},
            {"offset": 0.40, "color": "#fff"}, {"offset": 0.43, "color": "#fff"}, {"offset": 0.44, "color": "#222"},
            {"offset": 0.45, "color": "#fff"}, {"offset": 0.48, "color": "#fff"}, {"offset": 0.49, "color": "#222"},
            {"offset": 0.50, "color": "#fff"}, {"offset": 0.53, "color": "#fff"}, {"offset": 0.54, "color": "#222"},
            {"offset": 0.55, "color": "#fff"}, {"offset": 0.58, "color": "#fff"}, {"offset": 0.59, "color": "#222"},
            {"offset": 0.60, "color": "#fff"}, {"offset": 0.63, "color": "#fff"}, {"offset": 0.64, "color": "#222"},
            {"offset": 0.65, "color": "#fff"}, {"offset": 0.68, "color": "#fff"}, {"offset": 0.69, "color": "#222"},
            {"offset": 0.70, "color": "#fff"}, {"offset": 0.73, "color": "#fff"}, {"offset": 0.74, "color": "#222"},
            {"offset": 0.75, "color": "#fff"}, {"offset": 0.78, "color": "#fff"}, {"offset": 0.79, "color": "#222"},
            {"offset": 0.80, "color": "#fff"}, {"offset": 0.83, "color": "#fff"}, {"offset": 0.84, "color": "#222"},
            {"offset": 0.85, "color": "#fff"}, {"offset": 0.88, "color": "#fff"}, {"offset": 0.89, "color": "#222"},
            {"offset": 0.90, "color": "#fff"}, {"offset": 0.93, "color": "#fff"}, {"offset": 0.94, "color": "#222"},
            {"offset": 0.95, "color": "#fff"}, {"offset": 0.98, "color": "#fff"}, {"offset": 0.99, "color": "#222"},
            {"offset": 1.00, "color": "#fff"}
          ]}},
          "encoding": {"y2": {"datum": -0.5}}
        }
      ]
    },
    {
      "data": {"values": [{}]},
      "mark": {"type": "rect", "color": "white"},
      "encoding": {"x": {"datum": 16.0, "type": "quantitative"}, "x2": {"datum": 23.4}, "y": {"datum": -0.5, "type": "quantitative"}, "y2": {"datum": -0.3}}
    },
    {
      "data": {"values": [{}]},
      "mark": {"type": "rule", "color": "#777", "strokeWidth": 1},
      "encoding": {"y": {"datum": -0.5, "type": "quantitative"}}
    },
    {
      "data": {"name": "days"},
      "mark": {"type": "rule", "color": "#111", "strokeWidth": 1.1},
      "encoding": {"x": {"field": "d", "type": "quantitative"}}
    },
    {
      "encoding": {
        "x": {"field": "d", "type": "quantitative"},
        "y": {"field": "v", "type": "quantitative"}
      },
      "layer": [
        {
          "data": {"name": "mean"},
          "mark": {"type": "line", "color": "#111", "strokeWidth": 1.2, "strokeDash": [6, 4], "interpolate": "monotone"}
        },
        {
          "data": {"name": "obs"},
          "mark": {"type": "line", "color": "#111", "strokeWidth": 1.3},
          "encoding": {"detail": {"field": "s"}}
        },
        {
          "data": {"name": "obs"},
          "mark": {"type": "point", "shape": "M-1,0H1M0,-1V1", "size": 22, "filled": false, "color": "#111", "strokeWidth": 1.2, "opacity": 1}
        },
        {
          "data": {"name": "arrow"},
          "mark": {"type": "line", "color": "#111", "strokeWidth": 1, "interpolate": "monotone"}
        }
      ]
    },
    {
      "data": {"values": [{}]},
      "mark": {"type": "point", "shape": "triangle-up", "size": 30, "filled": true, "color": "#111", "angle": 50, "opacity": 1},
      "encoding": {"x": {"datum": 19.08, "type": "quantitative"}, "y": {"datum": -0.583, "type": "quantitative"}}
    },
    {
      "data": {"values": [{}]},
      "mark": {"type": "text", "align": "left", "baseline": "middle", "fontSize": 14, "color": "#222"},
      "encoding": {"x": {"datum": 18.589, "type": "quantitative"}, "y": {"datum": -0.655, "type": "quantitative"}, "text": {"value": "Mean"}}
    },
    {
      "data": {"values": [{}]},
      "mark": {"type": "text", "align": "left", "baseline": "middle", "fontSize": 14, "color": "#222"},
      "encoding": {"x": {"datum": 18.589, "type": "quantitative"}, "y": {"datum": -0.685, "type": "quantitative"}, "text": {"value": "Variation"}}
    },
    {
      "data": {"values": [{}]},
      "mark": {"type": "text", "align": "center", "baseline": "middle", "fontSize": 16, "color": "#222", "dx": 23},
      "encoding": {"x": {"datum": 23.45, "type": "quantitative"}, "y": {"datum": 0, "type": "quantitative"}, "text": {"value": "0%"}}
    },
    {
      "data": {"values": [{}]},
      "mark": {"type": "text", "align": "center", "baseline": "middle", "fontSize": 14, "color": "#222", "dx": 23},
      "encoding": {"x": {"datum": 23.45, "type": "quantitative"}, "y": {"datum": -0.5, "type": "quantitative"}, "text": {"value": "100%"}}
    },
    {
      "data": {"values": [{}]},
      "mark": {"type": "text", "align": "center", "baseline": "middle", "fontSize": 14, "color": "#222", "dx": 23, "dy": 16},
      "encoding": {"x": {"datum": 23.45, "type": "quantitative"}, "y": {"datum": -0.5, "type": "quantitative"}, "text": {"value": "of"}}
    },
    {
      "data": {"values": [{}]},
      "mark": {"type": "text", "align": "center", "baseline": "middle", "fontSize": 14, "color": "#222", "dx": 23, "dy": 32},
      "encoding": {"x": {"datum": 23.45, "type": "quantitative"}, "y": {"datum": -0.5, "type": "quantitative"}, "text": {"value": "mean"}}
    }
  ]
}
